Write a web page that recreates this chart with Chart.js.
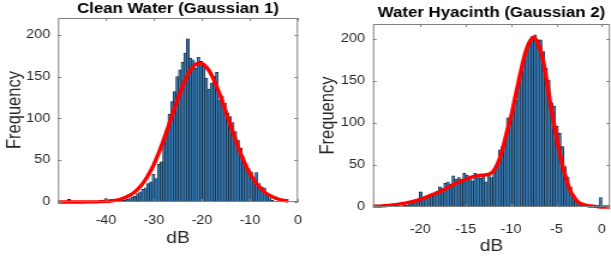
<!DOCTYPE html>
<html>
<head>
<meta charset="utf-8">
<script src="https://cdn.jsdelivr.net/npm/chart.js@4.4.1/dist/chart.umd.min.js"></script>
<style>
  html, body { margin: 0; padding: 0; background: #fff; }
  #wrap { position: relative; width: 611px; height: 258px; }
  .panel { position: absolute; top: 0; height: 258px; }
  /* the original figure is stretched sideways by about 1.2, so the canvases are too */
  canvas { height: 258px; }
</style>
</head>
<body>
<div id="wrap">
  <div class="panel" style="left:0;width:306px"><canvas id="cleanChart" width="255" height="258" style="width:306px;height:258px"></canvas></div>
  <div class="panel" style="left:306px;width:305px"><canvas id="hyacinthChart" width="254" height="258" style="width:305px;height:258px"></canvas></div>
</div>
<script>
// Clean water histogram (bin width 0.55 dB, first bin centre -47.7 dB)
const cleanBinStart = -47.7;
const cleanBinWidth = 0.55;
const cleanCounts = [3, 1, 0, 0, 0, 0, 1, 0, 0, 0, 1, 0, 0, 1, 4, 1, 3, 1, 2, 1,
  5, 2, 3, 4, 6, 7, 10, 12, 15, 17, 22, 24, 33, 28, 45, 48, 75, 86, 105, 120,
  132, 150, 158, 167, 178, 195, 172, 170, 160, 173, 168, 162, 148, 135, 142, 150, 155, 122, 127, 118,
  106, 102, 95, 84, 74, 64, 54, 46, 40, 36, 28, 35, 22, 18, 17, 10, 5, 2];

// Gaussian fit curve
const cleanFitX = [-50, -48, -46, -44, -42, -40, -39, -38, -37, -36, -35, -34, -33, -32, -31, -30, -29, -28, -27, -26,
  -25, -24, -23, -22, -21, -20, -19, -18, -17, -16, -15, -14, -13, -12, -11, -10, -9, -8, -7, -6, -5, -4, -3, -2];
const cleanFitY = [0, 0, 0, 0.1, 0.2, 0.7, 1.2, 2, 3.3, 5.3, 8.1, 12.1, 17.6, 24.8, 34, 45.4, 58.8, 74, 90.5, 107.5,
  124, 139, 151.7, 160.7, 165.4, 165.4, 160.7, 151.7, 139, 124, 107.5, 90.5, 74, 58.8, 45.4, 34, 24.8, 17.6, 12.1, 8.1, 5.3, 3.3, 2, 1.2];

// Water hyacinth histogram (bin width 0.3 dB, first bin centre -22.05 dB)
const hyacinthBinStart = -22.05;
const hyacinthBinWidth = 0.3;
const hyacinthCounts = [1, 2, 2, 4, 5, 6, 8, 18, 12, 11, 14, 13, 16, 19, 24, 22, 28, 30, 27, 37,
  33, 35, 32, 40, 38, 35, 31, 40, 36, 34, 38, 30, 38, 35, 44, 50, 68, 72, 80, 106,
  108, 117, 127, 143, 167, 178, 188, 193, 203, 205, 199, 199, 185, 165, 151, 124, 120, 96, 88, 72,
  48, 36, 24, 14, 8, 5, 2, 0, 0, 0, 0, 0, 0, 11];

// two-Gaussian fit curve
const hyacinthFitX = [-25.2, -24.5, -24, -23.5, -23, -22.5, -22, -21.5, -21, -20.5, -20, -19.5, -19, -18.5, -18, -17.5, -17, -16.5, -16, -15.5,
  -15, -14.5, -14, -13.5, -13, -12.5, -12, -11.5, -11, -10.5, -10, -9.5, -9, -8.5, -8, -7.5, -7, -6.5, -6, -5.5,
  -5, -4.5, -4, -3.5, -3, -2.5, -2, -1.5, -1, -0.5, 0, 0.9];
const hyacinthFitY = [1, 1, 1.5, 2, 2.5, 3, 4, 5, 6, 7.5, 9, 11, 13.5, 15.5, 17.5, 20, 23, 26, 28.5, 31,
  33, 35, 36.5, 37.5, 38, 39, 42, 51, 66, 88, 108, 133, 158, 181, 196, 202, 194, 176, 145, 112,
  84, 57, 36, 20, 11, 5, 3, 1.5, 1, 0.5, 0, 0];

const cleanXTicks = [-40, -30, -20, -10, 0];
const hyacinthXTicks = [-20, -15, -10, -5, 0];
const freqTicks = [0, 50, 100, 150, 200];

const FONT = "'Liberation Sans', Arial, Helvetica, sans-serif";
const TEXT = "#262626";

// box round the axes with small inward ticks, like MATLAB
const framePlugin = {
  id: "frame",
  afterDatasetsDraw(chart) {
    const { ctx, chartArea: a, scales } = chart;
    ctx.save();
    ctx.strokeStyle = "#808080";
    ctx.lineWidth = 1;
    ctx.strokeRect(a.left + 0.5, a.top + 0.5, a.right - a.left - 1, a.bottom - a.top - 1);
    ctx.beginPath();
    scales.x.ticks.forEach(t => {
      const px = Math.round(scales.x.getPixelForValue(t.value)) + 0.5;
      ctx.moveTo(px, a.bottom); ctx.lineTo(px, a.bottom - 3);
      ctx.moveTo(px, a.top); ctx.lineTo(px, a.top + 3);
    });
    scales.y.ticks.forEach(t => {
      const py = Math.round(scales.y.getPixelForValue(t.value)) + 0.5;
      ctx.moveTo(a.left, py); ctx.lineTo(a.left + 3, py);
      ctx.moveTo(a.right, py); ctx.lineTo(a.right - 3, py);
    });
    ctx.stroke();
    ctx.restore();
  }
};

function makeHistChart(id, cfg) {
  const bars = cfg.counts.map((c, i) => ({ x: cfg.binStart + i * cfg.binWidth, y: c }));
  const fit = cfg.fitX.map((x, i) => ({ x: x, y: cfg.fitY[i] }));

  return new Chart(document.getElementById(id), {
    type: "bar",
    data: {
      datasets: [
        {
          type: "line",
          data: fit,
          borderColor: "#ff0000",
          borderWidth: 3.4,
          pointRadius: 0,
          cubicInterpolationMode: "monotone",
          clip: 4,
          order: 0
        },
        {
          data: bars,
          backgroundColor: "#3a80bb",
          borderColor: "#111a24",
          borderWidth: 0.7,
          borderSkipped: "start",
          inflateAmount: 0.4,
          barPercentage: 1,
          categoryPercentage: 1,
          order: 1
        }
      ]
    },
    plugins: [framePlugin],
    options: {
      responsive: false,
      animation: false,
      layout: { padding: { left: 0, right: cfg.padRight, top: 0, bottom: 0 } },
      plugins: {
        legend: { display: false },
        tooltip: { enabled: false },
        title: {
          display: true,
          text: cfg.title,
          fullSize: false,
          color: "#000",
          font: { family: FONT, size: 14, weight: "bold" },
          padding: { top: cfg.titleTop, bottom: cfg.titleBottom }
        }
      },
      scales: {
        x: {
          type: "linear",
          offset: false,
          min: cfg.xMin,
          max: cfg.xMax,
          afterBuildTicks: s => { s.ticks = cfg.xTicks.map(v => ({ value: v })); },
          // fixed height, and no extra room kept for the end labels
          afterFit: s => { s.height = cfg.xHeight; s.paddingLeft = 0; s.paddingRight = 0; },
          grid: { display: false, drawTicks: false, offset: false },
          border: { display: false },
          ticks: {
            color: TEXT,
            font: { family: FONT, size: 12 },
            padding: cfg.xTickPad,
            maxRotation: 0,
            autoSkip: false
          },
          title: {
            display: true,
            text: "dB",
            color: TEXT,
            font: { family: FONT, size: 16 },
            padding: { top: 0, bottom: cfg.xTitleBottom }
          }
        },
        y: {
          min: 0,
          max: cfg.yMax,
          afterBuildTicks: s => { s.ticks = freqTicks.map(v => ({ value: v })); },
          afterFit: s => { s.width = cfg.yWidth; s.paddingTop = 0; s.paddingBottom = 0; },
          grid: { display: false, drawTicks: false },
          border: { display: false },
          ticks: {
            color: TEXT,
            font: { family: FONT, size: 12 },
            padding: cfg.yTickPad
          },
          title: {
            display: true,
            text: "Frequency",
            color: TEXT,
            font: { family: FONT, size: 16.5 },
            padding: { top: cfg.yTitleTop, bottom: 0 }
          }
        }
      }
    }
  });
}

makeHistChart("cleanChart", {
  title: "Clean Water (Gaussian 1)",
  counts: cleanCounts, binStart: cleanBinStart, binWidth: cleanBinWidth,
  fitX: cleanFitX, fitY: cleanFitY,
  xTicks: cleanXTicks, xMin: -50, xMax: 0, yMax: 220,
  padRight: 6.7, yWidth: 48.3, xHeight: 56, yTickPad: 6.5,
  titleTop: 1, titleBottom: 0.2,
  xTickPad: 11, xTitleBottom: 10, yTitleTop: 2.6
});

makeHistChart("hyacinthChart", {
  title: "Water Hyacinth (Gaussian 2)",
  counts: hyacinthCounts, binStart: hyacinthBinStart, binWidth: hyacinthBinWidth,
  fitX: hyacinthFitX, fitY: hyacinthFitY,
  xTicks: hyacinthXTicks, xMin: -25.2, xMax: 0.9, yMax: 218,
  padRight: 0.8, yWidth: 55.8, xHeight: 51, yTickPad: 6.7,
  titleTop: 5, titleBottom: 2.2,
  xTickPad: 15, xTitleBottom: 2, yTitleTop: 8.4
});
</script>
</body>
</html>
